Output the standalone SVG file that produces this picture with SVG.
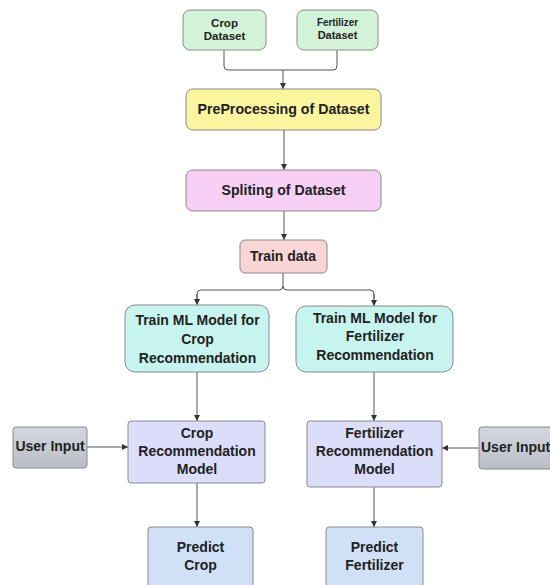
<svg xmlns="http://www.w3.org/2000/svg" width="550" height="585" viewBox="0 0 550 585">
<defs>
<marker id="arr" viewBox="0 0 10 10" refX="10" refY="5" markerWidth="6" markerHeight="6" orient="auto" markerUnits="userSpaceOnUse">
<path d="M0,0 L10,5 L0,10 z" fill="#333"/>
</marker>
<linearGradient id="gray" x1="0" y1="0" x2="0" y2="1">
<stop offset="0" stop-color="#d4d8de"/>
<stop offset="1" stop-color="#b9bec6"/>
</linearGradient>
</defs>
<style>
rect{stroke:#8a8a8a;stroke-width:1}
text{font-family:"Liberation Sans",Arial,sans-serif;font-weight:bold;fill:#222;text-anchor:middle}
.c{fill:none;stroke:#555;stroke-width:1}
.a{marker-end:url(#arr)}
</style>
<rect width="550" height="585" fill="#fff" style="stroke:none"/>
<g id="connectors">
<path class="c" d="M224,50 V66 Q224,70 228,70 H333 Q337,70 337,66 V50"/>
<path class="c a" d="M283,70 V89"/>
<path class="c a" d="M284,130 V170"/>
<path class="c a" d="M284,211 V240"/>
<path class="c" d="M283,273 V286 Q283,290 279,290 H201 Q197,290 197,294 V299"/>
<path class="c a" d="M197,294 V305"/>
<path class="c" d="M283,286 Q283,290 287,290 H370 Q374,290 374,294 V299"/>
<path class="c a" d="M374,294 V306"/>
<path class="c a" d="M197,372 V421"/>
<path class="c a" d="M374,372 V421"/>
<path class="c a" d="M87,447 H128"/>
<path class="c a" d="M479,448 H442"/>
<path class="c a" d="M197,483 V527"/>
<path class="c a" d="M374,487 V527"/>
</g>
<g id="crop-dataset">
<rect x="183" y="10" width="83" height="40" rx="7" fill="#d3f3d9"/>
<text x="224.5" y="27" font-size="11.5">Crop</text>
<text x="224.5" y="40" font-size="11.5">Dataset</text>
</g>
<g id="fertilizer-dataset">
<rect x="297" y="10" width="81" height="40" rx="7" fill="#d3f3d9"/>
<text x="337.5" y="26" font-size="11" textLength="41" lengthAdjust="spacingAndGlyphs">Fertilizer</text>
<text x="337.5" y="39" font-size="11">Dataset</text>
</g>
<g id="preprocessing">
<rect x="186" y="89" width="195" height="41" rx="7" fill="#fbf5a0"/>
<text x="283.5" y="114" font-size="15.5" textLength="172" lengthAdjust="spacingAndGlyphs">PreProcessing of Dataset</text>
</g>
<g id="splitting">
<rect x="186" y="170" width="195" height="41" rx="7" fill="#f8d0f6"/>
<text x="283.5" y="195" font-size="15" textLength="124" lengthAdjust="spacingAndGlyphs">Spliting of Dataset</text>
</g>
<g id="train-data">
<rect x="240" y="240" width="87" height="33" rx="5" fill="#fad5d6"/>
<text x="283" y="261" font-size="14">Train data</text>
</g>
<g id="train-crop">
<rect x="125" y="305" width="144" height="67" rx="10" fill="#c8f4ef"/>
<text x="197.5" y="325" font-size="14">Train ML Model for</text>
<text x="197.5" y="344" font-size="14">Crop</text>
<text x="197.5" y="363" font-size="14">Recommendation</text>
</g>
<g id="train-fertilizer">
<rect x="296" y="306" width="157" height="66" rx="10" fill="#c8f4ef"/>
<text x="375" y="323" font-size="14">Train ML Model for</text>
<text x="375" y="341" font-size="14">Fertilizer</text>
<text x="375" y="360" font-size="14">Recommendation</text>
</g>
<g id="user-input-left">
<rect x="13" y="427" width="74" height="41" rx="3" fill="url(#gray)"/>
<text x="50" y="451" font-size="14">User Input</text>
</g>
<g id="crop-model">
<rect x="128" y="421" width="137" height="62" rx="3" fill="#dcdcfb"/>
<text x="197" y="438" font-size="14">Crop</text>
<text x="197" y="456" font-size="14">Recommendation</text>
<text x="197" y="474" font-size="14">Model</text>
</g>
<g id="fertilizer-model">
<rect x="307" y="421" width="135" height="66" rx="3" fill="#dcdcfb"/>
<text x="374.5" y="438" font-size="14">Fertilizer</text>
<text x="374.5" y="456" font-size="14">Recommendation</text>
<text x="374.5" y="474" font-size="14">Model</text>
</g>
<g id="user-input-right">
<rect x="479" y="427" width="80" height="42" rx="3" fill="url(#gray)"/>
<text x="481" y="452" font-size="14" style="text-anchor:start">User Input</text>
</g>
<g id="predict-crop">
<rect x="148" y="527" width="105" height="60" rx="3" fill="#cfe0f7"/>
<text x="200.5" y="552" font-size="14">Predict</text>
<text x="200.5" y="570" font-size="14">Crop</text>
</g>
<g id="predict-fertilizer">
<rect x="326" y="527" width="97" height="60" rx="3" fill="#cfe0f7"/>
<text x="374.5" y="552" font-size="14">Predict</text>
<text x="374.5" y="570" font-size="14">Fertilizer</text>
</g>
</svg>
